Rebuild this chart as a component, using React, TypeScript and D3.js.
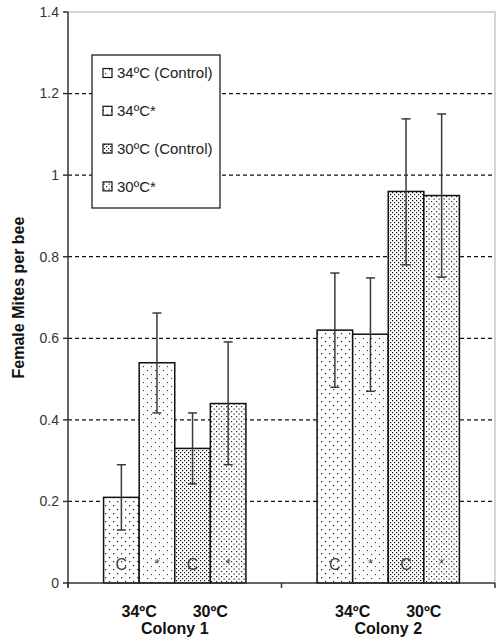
import React from "react";
import * as d3 from "d3";

// chart data
const colonies = ["Colony 1", "Colony 2"];
const treatments = ["34ºC (Control)", "34ºC*", "30ºC (Control)", "30ºC*"];
const barMarks = ["C", "*", "C", "*"];
const tempLabels = ["34ºC", "30ºC"];

const colony1Means = [0.21, 0.54, 0.33, 0.44];
const colony2Means = [0.62, 0.61, 0.96, 0.95];
const colony1Lower = [0.13, 0.417, 0.243, 0.29];
const colony2Lower = [0.48, 0.47, 0.78, 0.75];
const colony1Upper = [0.29, 0.662, 0.417, 0.591];
const colony2Upper = [0.76, 0.748, 1.138, 1.15];

const yTicks = [0, 0.2, 0.4, 0.6, 0.8, 1, 1.2, 1.4];

const WIDTH = 496;
const HEIGHT = 640;
const margin = { left: 68, right: 1, top: 12, bottom: 57 };

const patternIds = ["pSparseA", "pSparseB", "pDenseA", "pDenseB"];
const font = "'Liberation Sans', Arial, sans-serif";

interface IBarDatum {
    colony: string;
    treatment: string;
    index: number;
    mean: number;
    lower: number;
    upper: number;
}

const rows: IBarDatum[] = [];
colonies.forEach((colony, ci) => {
    const means = ci === 0 ? colony1Means : colony2Means;
    const lower = ci === 0 ? colony1Lower : colony2Lower;
    const upper = ci === 0 ? colony1Upper : colony2Upper;
    treatments.forEach((treatment, ti) => {
        rows.push({ colony, treatment, index: ti, mean: means[ti], lower: lower[ti], upper: upper[ti] });
    });
});

export default function App(): React.ReactElement {
    const x0 = d3.scaleBand<string>()
        .domain(colonies)
        .range([margin.left, WIDTH - margin.right]);

    const bw = x0.bandwidth();
    const x1 = d3.scaleBand<string>()
        .domain(treatments)
        .range([bw / 6, bw * 5 / 6]);

    const y = d3.scaleLinear()
        .domain([0, 1.4])
        .range([HEIGHT - margin.bottom, margin.top]);

    const plotRight = WIDTH - margin.right;
    const fmt = (v: number): string => String(+v.toFixed(1));

    return (
        <svg width={WIDTH} height={HEIGHT}
            style={{ position: "absolute", left: 0, top: 0, background: "#fff" }}
            fontFamily={font}>
            <defs>
                <pattern id="pSparseA" width={8} height={8} patternUnits="userSpaceOnUse">
                    <rect width={8} height={8} fill="#fff" />
                    <rect x={1} y={1} width={1.2} height={1.2} fill="#222" />
                    <rect x={5} y={5} width={1.2} height={1.2} fill="#222" />
                </pattern>
                <pattern id="pSparseB" width={8} height={8} patternUnits="userSpaceOnUse">
                    <rect width={8} height={8} fill="#fff" />
                    <rect x={3} y={2} width={1.1} height={1.1} fill="#333" />
                    <rect x={7} y={6} width={1.1} height={1.1} fill="#333" />
                </pattern>
                <pattern id="pDenseA" width={4} height={4} patternUnits="userSpaceOnUse">
                    <rect width={4} height={4} fill="#fff" />
                    <rect x={0} y={0} width={1.2} height={1.2} fill="#111" />
                    <rect x={2} y={2} width={1.2} height={1.2} fill="#111" />
                </pattern>
                <pattern id="pDenseB" width={5} height={5} patternUnits="userSpaceOnUse">
                    <rect width={5} height={5} fill="#fff" />
                    <rect x={1} y={1} width={1.2} height={1.2} fill="#222" />
                    <rect x={3.5} y={3.5} width={1.2} height={1.2} fill="#222" />
                </pattern>
            </defs>

            {/* plot border (light) */}
            <path d={`M${margin.left},${y(1.4)}H${plotRight}V${y(0)}`}
                fill="none" stroke="#c8c8c8" strokeWidth={1.5} />

            {/* dashed gridlines */}
            {yTicks.filter((t) => t > 0 && t < 1.4).map((t) => (
                <line key={t} x1={margin.left} x2={plotRight} y1={y(t)} y2={y(t)}
                    stroke="#111" strokeWidth={1.2} strokeDasharray="4,3" />
            ))}

            {/* bars */}
            {rows.map((d) => {
                const bx = (x0(d.colony) ?? 0) + (x1(d.treatment) ?? 0);
                return (
                    <rect key={d.colony + d.treatment}
                        x={bx} y={y(d.mean)} width={x1.bandwidth()} height={y(0) - y(d.mean)}
                        fill={`url(#${patternIds[d.index]})`} stroke="#111" strokeWidth={1.5} />
                );
            })}

            {/* bar markers */}
            {rows.map((d) => {
                const cx = (x0(d.colony) ?? 0) + (x1(d.treatment) ?? 0) + x1.bandwidth() / 2;
                const mark = barMarks[d.index];
                return (
                    <text key={"m" + d.colony + d.treatment} x={cx} y={mark === "C" ? 570 : 568}
                        textAnchor="middle" fontSize={mark === "C" ? 16 : 13} fill="#3a3a4a">
                        {mark}
                    </text>
                );
            })}

            {/* error bars */}
            {rows.map((d) => {
                const cx = (x0(d.colony) ?? 0) + (x1(d.treatment) ?? 0) + x1.bandwidth() / 2;
                return (
                    <g key={"e" + d.colony + d.treatment} stroke="#3a3a3a" strokeWidth={1.5}>
                        <line x1={cx} x2={cx} y1={y(d.lower)} y2={y(d.upper)} />
                        <line x1={cx - 4.5} x2={cx + 4.5} y1={y(d.upper)} y2={y(d.upper)} />
                        <line x1={cx - 4.5} x2={cx + 4.5} y1={y(d.lower)} y2={y(d.lower)} />
                    </g>
                );
            })}

            {/* y axis */}
            <line x1={margin.left} x2={margin.left} y1={y(1.4)} y2={y(0) + 4}
                stroke="#333" strokeWidth={1.5} />
            {yTicks.map((t) => (
                <g key={"yt" + t}>
                    <line x1={margin.left - 5} x2={margin.left} y1={y(t)} y2={y(t)}
                        stroke="#333" strokeWidth={1.5} />
                    <text x={margin.left - 9} y={y(t)} dy="0.35em" textAnchor="end"
                        fontSize={14} fill="#333">{fmt(t)}</text>
                </g>
            ))}
            <text transform={`translate(24,${(y(0) + y(1.4)) / 2}) rotate(-90)`}
                textAnchor="middle" fontSize={16} fontWeight="bold" fill="#111">
                Female Mites per bee
            </text>

            {/* x axis */}
            <line x1={margin.left} x2={plotRight} y1={y(0)} y2={y(0)} stroke="#333" strokeWidth={1.5} />
            {[...colonies.map((c) => x0(c) ?? 0), plotRight].map((xv, i) => (
                <line key={"xt" + i} x1={xv} x2={xv} y1={y(0)} y2={y(0) + 5}
                    stroke="#333" strokeWidth={1.5} />
            ))}
            {colonies.map((c) => {
                const base = x0(c) ?? 0;
                return (
                    <g key={"xl" + c}>
                        {tempLabels.map((t, i) => {
                            const cx = base + (x1(treatments[i * 2]) ?? 0) + x1.bandwidth();
                            return (
                                <text key={t} x={cx} y={617} textAnchor="middle"
                                    fontSize={16} fontWeight="bold" fill="#111">{t}</text>
                            );
                        })}
                        <text x={base + bw / 2} y={634} textAnchor="middle"
                            fontSize={16} fontWeight="bold" fill="#111">{c}</text>
                    </g>
                );
            })}

            {/* legend */}
            <g>
                <rect x={92} y={55} width={128} height={153} fill="#fff" stroke="#222" strokeWidth={1.3} />
                {treatments.map((t, i) => {
                    const ly = 73 + i * 37.8;
                    return (
                        <g key={"lg" + t}>
                            <rect x={103} y={ly - 4.5} width={9} height={9}
                                fill={`url(#${patternIds[i]})`} stroke="#111" strokeWidth={1.2} />
                            <text x={117} y={ly} dy="0.35em" fontSize={15} fill="#222">{t}</text>
                        </g>
                    );
                })}
            </g>
        </svg>
    );
}
